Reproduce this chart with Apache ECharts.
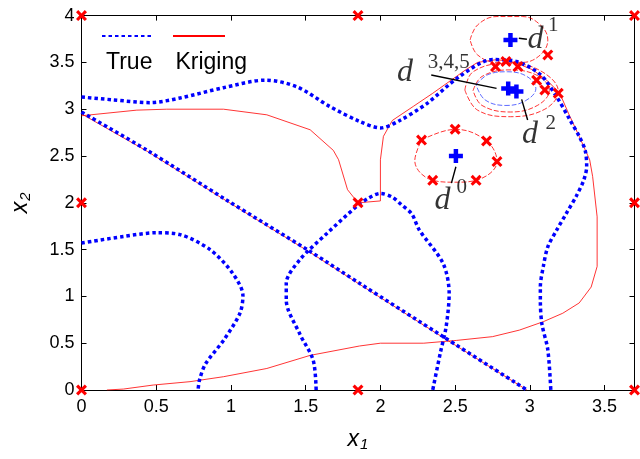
<!DOCTYPE html>
<html>
<head>
<meta charset="utf-8">
<script src="https://cdn.jsdelivr.net/npm/echarts@6/dist/echarts.min.js"></script>
<style>
  html, body { margin: 0; padding: 0; background: #fff; }
  #graph { width: 640px; height: 459px; }
</style>
</head>
<body>
<div id="graph"></div>
<script>
// true limit-state curves (x1, x2)
const trueA = [[0, 3.13], [0.21, 3.10], [0.46, 3.07], [0.66, 3.12], [0.95, 3.23], [1.23, 3.31], [1.44, 3.24],
  [1.66, 3.03], [1.86, 2.87], [2.0, 2.80], [2.13, 2.88], [2.31, 3.06], [2.53, 3.35], [2.75, 3.53], [2.91, 3.51],
  [3.07, 3.37], [3.18, 3.13], [3.27, 2.88], [3.33, 2.71], [3.37, 2.56], [3.38, 2.39], [3.36, 2.24], [3.31, 2.07],
  [3.245, 1.89], [3.18, 1.71], [3.12, 1.53], [3.09, 1.32], [3.07, 1.10], [3.07, 0.96], [3.08, 0.71], [3.12, 0.43], [3.14, 0]]
const trueB = [[0, 2.97], [0.44, 2.56], [0.97, 2.03], [1.53, 1.48], [1.86, 1.14], [2.42, 0.57], [2.98, 0]]
const trueC = [[0, 1.57], [0.28, 1.64], [0.50, 1.68], [0.66, 1.66], [0.86, 1.50], [1.01, 1.25], [1.08, 1.01],
  [1.06, 0.82], [0.95, 0.53], [0.83, 0.28], [0.79, 0.11], [0.78, 0]]
const trueD = [[1.57, 0], [1.55, 0.32], [1.46, 0.60], [1.37, 0.96], [1.37, 1.14], [1.46, 1.39], [1.64, 1.67],
  [1.84, 1.96], [1.92, 2.05], [2.0, 2.10], [2.08, 2.06], [2.14, 1.98], [2.21, 1.88], [2.26, 1.71], [2.42, 1.35],
  [2.46, 1.03], [2.44, 0.68], [2.40, 0.39], [2.35, 0]]
const trueRing = [[2.64, 3.26], [2.72, 3.37], [2.85, 3.40], [2.98, 3.35], [3.04, 3.22], [2.97, 3.09], [2.84, 3.04],
  [2.70, 3.10], [2.64, 3.26]]

// kriging contours
const krigMain = [[0, 2.93], [0.37, 2.99], [0.57, 3.0], [0.95, 3.0], [1.24, 2.94], [1.53, 2.78], [1.685, 2.56],
  [1.72, 2.46], [1.78, 2.14], [1.85, 2.0], [2.0, 2.02], [2.0, 2.46], [2.02, 2.71], [2.08, 2.88], [2.22, 3.03],
  [2.35, 3.17], [2.57, 3.42], [2.65, 3.50], [2.78, 3.53], [2.90, 3.50], [3.02, 3.42], [3.12, 3.30], [3.20, 3.17],
  [3.26, 2.95], [3.33, 2.71], [3.40, 2.46], [3.42, 2.28], [3.45, 1.85], [3.45, 1.32], [3.41, 1.10], [3.33, 0.93],
  [3.22, 0.82], [3.09, 0.73], [2.93, 0.64], [2.75, 0.57], [2.51, 0.53], [2.29, 0.50], [2.0, 0.50], [1.86, 0.47],
  [1.53, 0.37], [1.24, 0.23], [0.95, 0.142], [0.726, 0.089], [0.48, 0.053], [0.28, 0.01], [0.17, 0]]
const krigDiag = [[0, 2.95], [0.44, 2.55], [0.97, 2.02], [1.53, 1.47], [1.86, 1.13], [2.42, 0.56], [2.98, 0]]
const krigRing0 = [[2.275, 2.67], [2.50, 2.785], [2.71, 2.66], [2.78, 2.44], [2.64, 2.24], [2.50, 2.22],
  [2.35, 2.24], [2.23, 2.45], [2.275, 2.67]]
const krigRing1 = [[2.60, 3.74], [2.65, 3.90], [2.78, 3.99], [2.95, 3.99], [3.07, 3.90], [3.12, 3.74], [3.07, 3.58],
  [2.95, 3.50], [2.78, 3.50], [2.65, 3.58], [2.60, 3.74]]
const krigRingOuter = [[2.565, 3.205], [2.62, 3.40], [2.84, 3.49], [3.06, 3.42], [3.19, 3.19], [3.10, 3.0],
  [2.87, 2.92], [2.65, 2.99], [2.565, 3.205]]
const krigRingInner = [[2.62, 3.20], [2.68, 3.35], [2.86, 3.42], [3.05, 3.36], [3.13, 3.20], [3.05, 3.04],
  [2.87, 2.97], [2.68, 3.04], [2.62, 3.20]]

// sample points (red x) and design points (blue +)
const sampleX = [0, 0, 0, 1.85, 1.85, 1.85, 3.7, 3.7, 3.7, 2.275, 2.50, 2.71, 2.78, 2.64, 2.35,
  2.77, 2.84, 2.92, 3.045, 3.10, 3.19, 3.12]
const sampleY = [0, 2, 4, 0, 2, 4, 0, 2, 4, 2.67, 2.785, 2.66, 2.44, 2.24, 2.24,
  3.455, 3.51, 3.455, 3.31, 3.205, 3.17, 3.58]
const designX = [2.505, 2.87, 2.855, 2.91]
const designY = [2.50, 3.74, 3.22, 3.19]

// annotations: italic "d" and its superscript, placed by glyph centre
const dX = [2.164, 3.037, 3.0, 2.415]
const dY = [3.39, 3.748, 2.733, 2.028]
const supText = ['3,4,5', '1', '2', '0']
const supX = [2.458, 3.157, 3.14, 2.545]
const supY = [3.50, 3.89, 2.845, 2.165]
const leaders = [
  [[2.34, 3.365], [2.777, 3.223]],
  [[2.926, 3.758], [2.98, 3.747]],
  [[2.945, 3.105], [2.985, 2.885]],
  [[2.505, 2.385], [2.475, 2.21]]
]

const xTicks = [0, 0.5, 1, 1.5, 2, 2.5, 3, 3.5]
const yTicks = [0, 0.5, 1, 1.5, 2, 2.5, 3, 3.5, 4]

const dom = document.getElementById('graph')
const chart = echarts.init(dom, null, { renderer: 'canvas' })

const SANS = 'Liberation Sans'
const SERIF = 'Liberation Serif'
const X_PATH = 'path://M0,2L2,0L5,3L8,0L10,2L7,5L10,8L8,10L5,7L2,10L0,8L3,5Z'
const PLUS_PATH = 'path://M3.4,0H6.6V3.4H10V6.6H6.6V10H3.4V6.6H0V3.4H3.4Z'

function onTick (list) {
  return v => list.some(t => Math.abs(t - v) < 1e-6) ? String(v) : ''
}

const nameRich = {
  x: { fontFamily: SANS, fontStyle: 'italic', fontSize: 23, lineHeight: 24, verticalAlign: 'top', color: '#000' },
  s: { fontFamily: SANS, fontStyle: 'italic', fontSize: 15, lineHeight: 15, verticalAlign: 'bottom', padding: [16, 0, 0, 1], color: '#000' }
}

const axisCommon = {
  type: 'value',
  axisLine: { show: true, onZero: false, lineStyle: { color: '#000', width: 1 } },
  axisTick: { show: true, inside: true, length: 5, lineStyle: { color: '#000' } },
  splitLine: { show: false }
}

function trueSeries (data) {
  return {
    name: 'True',
    type: 'line',
    data,
    smooth: 0.3,
    showSymbol: false,
    symbol: 'none',
    itemStyle: { color: '#0000ff' },
    lineStyle: { color: '#0000ff', width: 3.5, type: [3.5, 3], cap: 'butt' },
    z: 3
  }
}

function krigSeries (data, dashed, smooth) {
  return {
    name: 'Kriging',
    type: 'line',
    data,
    smooth: smooth ? 0.4 : false,
    showSymbol: false,
    symbol: 'none',
    itemStyle: { color: '#ff0000' },
    lineStyle: { color: '#ff0000', width: 0.8, type: dashed ? [5, 2] : 'solid' },
    z: 2
  }
}

function textSeries (name, xs, ys, texts, style) {
  return {
    name,
    type: 'scatter',
    data: xs.map((x, i) => ({ value: [x, ys[i]], label: { formatter: texts[i] } })),
    symbolSize: 0,
    clip: false,
    silent: true,
    label: Object.assign({ show: true, position: 'inside', color: '#000' }, style),
    z: 7
  }
}

const option = {
  animation: false,
  backgroundColor: '#fff',
  grid: { left: 81.5, top: 15.6, width: 553, height: 374.4, containLabel: false, outerBoundsMode: 'none' },
  legend: [
    {
      data: ['True', 'Kriging'],
      left: 96,
      top: 24,
      itemWidth: 52,
      itemHeight: 14,
      itemGap: 17,
      formatter: () => '',
      selectedMode: false,
      itemStyle: { opacity: 0 }
    },
    {
      data: ['True', 'Kriging'],
      left: 96,
      top: 46,
      icon: 'rect',
      itemWidth: 0,
      itemHeight: 0,
      itemGap: 18,
      selectedMode: false,
      itemStyle: { opacity: 0 },
      lineStyle: { opacity: 0 },
      textStyle: { fontFamily: SANS, fontSize: 23, color: '#000' }
    }
  ],
  xAxis: [
    Object.assign({}, axisCommon, {
      position: 'bottom',
      min: 0,
      max: 3.7,
      interval: 0.5,
      name: '{x|x}{s|1}',
      nameLocation: 'middle',
      nameGap: 35,
      nameTextStyle: { rich: nameRich },
      axisLabel: { fontFamily: SANS, fontSize: 18, color: '#000', margin: 8, formatter: onTick(xTicks) }
    }),
    Object.assign({}, axisCommon, {
      position: 'top',
      min: 0,
      max: 3.7,
      interval: 0.5,
      axisLabel: { show: false }
    })
  ],
  yAxis: [
    Object.assign({}, axisCommon, {
      position: 'left',
      min: 0,
      max: 4,
      interval: 0.5,
      name: '{x|x}{s|2}',
      nameLocation: 'middle',
      nameGap: 48,
      nameTextStyle: { rich: nameRich },
      axisLabel: { fontFamily: SANS, fontSize: 18, color: '#000', margin: 7, formatter: onTick(yTicks) }
    }),
    Object.assign({}, axisCommon, {
      position: 'right',
      min: 0,
      max: 4,
      interval: 0.5,
      axisLabel: { show: false }
    })
  ],
  series: [
    trueSeries(trueA),
    krigSeries(krigMain, false, false),
    krigSeries(krigDiag, false, false),
    krigSeries(krigRing0, true, true),
    krigSeries(krigRing1, true, true),
    krigSeries(krigRingOuter, true, true),
    krigSeries(krigRingInner, true, true),
    trueSeries(trueB),
    trueSeries(trueC),
    trueSeries(trueD),
    {
      name: 'True',
      type: 'line',
      data: trueRing,
      smooth: 0.4,
      symbol: 'none',
      lineStyle: { color: '#3344ff', width: 0.8, type: [5, 2] },
      z: 3
    },
    ...leaders.map(seg => ({
      name: 'leader',
      type: 'line',
      data: seg,
      symbol: 'none',
      lineStyle: { color: '#000', width: 1.4 },
      z: 4
    })),
    {
      name: 'samples',
      type: 'scatter',
      data: sampleX.map((x, i) => [x, sampleY[i]]),
      symbol: X_PATH,
      symbolSize: 11,
      clip: false,
      itemStyle: { color: '#ff0000', opacity: 1 },
      z: 5
    },
    {
      name: 'design',
      type: 'scatter',
      data: designX.map((x, i) => [x, designY[i]]),
      symbol: PLUS_PATH,
      symbolSize: 14,
      clip: false,
      itemStyle: { color: '#0000ff', opacity: 1 },
      z: 6
    },
    textSeries('dglyph', dX, dY, dX.map(() => 'd'), { fontFamily: SERIF, fontStyle: 'italic', fontSize: 32 }),
    textSeries('dsup', supX, supY, supText, { fontFamily: SERIF, fontSize: 21 })
  ]
}

chart.setOption(option)
</script>
</body>
</html>
